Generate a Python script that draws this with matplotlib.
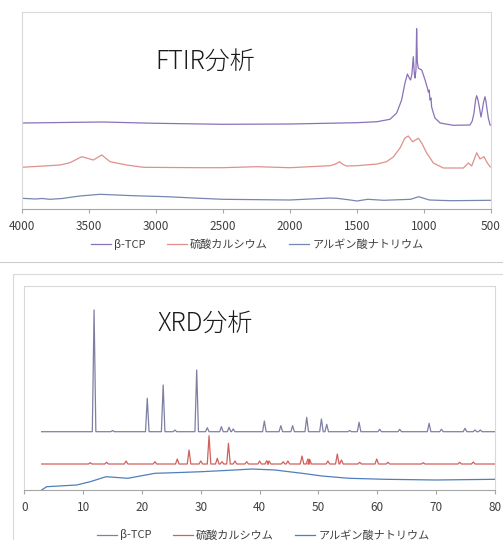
import matplotlib
matplotlib.use("Agg")
import matplotlib.pyplot as plt
from matplotlib.lines import Line2D
from matplotlib.patches import Rectangle

plt.rcParams['font.family'] = ['Noto Sans CJK JP', 'DejaVu Sans']

series_names = ["β-TCP", "硫酸カルシウム", "アルギン酸ナトリウム"]

# FTIR spectra (wavenumber, arbitrary intensity)
ftir_tcp_x = [4000, 3400, 3000, 2500, 2000, 1500, 1350, 1254, 1204, 1167, 1142, 1124,
              1110, 1100, 1090, 1080, 1072, 1067, 1060, 1055, 1050, 1042, 1017, 992,
              975, 967, 962, 955, 948, 943, 930, 918, 880, 781, 657, 640, 627, 615,
              607, 597, 587, 575, 565, 557, 545, 538, 532, 520, 507, 500]
ftir_tcp_y = [86, 87, 85.7, 84.7, 85, 86.3, 87.3, 89.7, 96, 109, 126, 135,
              131, 129, 135, 152.3, 135, 131, 139, 180.3, 147, 140.7, 139, 129,
              121, 117, 119, 109, 111, 102, 96, 91, 86, 83.7, 84, 88, 96, 109,
              113.3, 109, 102, 92, 99, 106, 112.3, 108, 102, 91, 84, 84]

ftir_caso4_x = [4000, 3716, 3642, 3554, 3468, 3405, 3343, 3219, 3095, 2672, 2500, 2250,
                2000, 1700, 1660, 1630, 1610, 1580, 1500, 1350, 1280, 1229, 1179, 1142,
                1117, 1085, 1042, 1017, 980, 930, 856, 706, 669, 644, 607, 582, 552,
                532, 507, 500]
ftir_caso4_y = [41.7, 44, 46.3, 52.3, 49, 54, 47.3, 44, 41.7, 41.3, 41.3, 42.3,
                41.3, 43.3, 45, 47.3, 45, 43, 43.3, 45, 47.3, 52, 61, 71,
                73, 67.3, 70.7, 66, 56, 46, 41, 41, 46, 43, 56.3, 50, 52.3,
                47, 42.3, 42]

ftir_alg_x = [4000, 3900, 3850, 3791, 3700, 3650, 3567, 3418, 3171, 2920, 2672, 2500,
              2000, 1700, 1650, 1550, 1500, 1420, 1300, 1100, 1040, 960, 800, 500]
ftir_alg_y = [10.7, 10, 10.5, 9.7, 10.5, 11.5, 13, 14.7, 13.3, 12.3, 10.7, 9.7,
              9, 11, 10.7, 9, 8, 9.7, 8.7, 9.7, 12.3, 9, 8.3, 8.7]

# XRD patterns (2theta, arbitrary intensity)
xrd_tcp_base = 58.3
xrd_tcp_peaks = [11.86, 15.0, 20.9, 23.6, 25.6, 29.3, 31.1, 33.5, 34.8, 35.5, 40.8,
                 43.6, 45.6, 48.0, 50.5, 51.4, 55.3, 56.9, 60.4, 63.8, 68.8, 70.9,
                 74.9, 76.6, 77.5]
xrd_tcp_heights = [180, 59.5, 91.7, 105, 60, 120, 62.3, 63.3, 62.7, 61, 69,
                   64.3, 64.3, 72.7, 71, 65.7, 59.5, 67.7, 60.7, 60.7, 66.7, 60.7,
                   61.7, 60, 60]

xrd_caso4_base = 26
xrd_caso4_peaks = [11.2, 14.0, 17.3, 22.2, 26.0, 28.0, 30.0, 31.4, 32.8, 33.6, 34.7,
                   35.8, 37.8, 40.0, 41.2, 41.6, 44.0, 44.8, 47.2, 48.2, 48.5, 51.6,
                   53.2, 53.9, 57.0, 59.9, 61.8, 67.8, 74.0, 76.3]
xrd_caso4_heights = [27.3, 27.7, 29, 28.3, 31, 40, 29, 54.3, 31.7, 28.3, 46.7,
                     29, 28.3, 29, 29.3, 29, 28.3, 29, 34, 31, 30.7, 29,
                     36, 30, 27.7, 31, 27.7, 27.3, 27.7, 28]

xrd_alg_x = [2.95, 3.8, 8.9, 11.2, 13.9, 17.6, 22.2, 25.5, 30.1, 35.8, 38.7, 42.6,
             47.2, 50.6, 55.2, 61.4, 69.9, 80]
xrd_alg_y = [0, 3.3, 5, 8.3, 13.3, 11.7, 16.7, 17.3, 18.3, 20, 21, 20,
             16.7, 14, 11.7, 10.7, 10, 10.7]

W, H = 503, 540


def peak_line(start, end, base, centers, heights, hw=0.3):
    xs, ys = [start], [base]
    for c, h in zip(centers, heights):
        xs += [c - hw, c, c + hw]
        ys += [base, h, base]
    xs.append(end)
    ys.append(base)
    return xs, ys


def style_axes(ax):
    for side in ["top", "left", "right"]:
        ax.spines[side].set_color("#d9d9d9")
        ax.spines[side].set_linewidth(0.8)
    ax.spines["bottom"].set_color("#a6a6a6")
    ax.spines["bottom"].set_linewidth(0.8)
    ax.set_yticks([])
    ax.tick_params(axis="x", direction="out", length=3, width=0.8, color="#a6a6a6",
                   labelsize=8.5, labelcolor="#404040", pad=5)


def add_legend(handles, cx, cy):
    fig.legend(handles, series_names, loc="center", bbox_to_anchor=(cx / W, 1 - cy / H),
               ncol=3, frameon=False, fontsize=8, handlelength=1.8, columnspacing=1.9,
               handletextpad=0.3, labelcolor="#404040")


fig = plt.figure(figsize=(W / 100, H / 100), dpi=100)

# --- FTIR ---
ax1 = fig.add_axes([22 / W, 1 - 209 / H, 469 / W, 197 / H])
c1 = ["#8a72b8", "#e0908c", "#7587b0"]
ax1.plot(ftir_tcp_x, ftir_tcp_y, color=c1[0], lw=0.9)
ax1.plot(ftir_caso4_x, ftir_caso4_y, color=c1[1], lw=0.9)
ax1.plot(ftir_alg_x, ftir_alg_y, color=c1[2], lw=0.9)
ax1.set_xlim(4000, 500)
ax1.set_ylim(0, 197)
ax1.set_xticks(range(4000, 499, -500))
style_axes(ax1)
fig.text(205 / W, 1 - 62 / H, "FTIR分析", fontsize=18, ha="center", va="center",
         fontweight="light", color="#1a1a1a")
add_legend([Line2D([], [], color=c, lw=0.9) for c in c1], 257, 244)

# separator and second chart frame
fig.add_artist(Line2D([0, 1], [1 - 262 / H, 1 - 262 / H], color="#cccccc", lw=0.8))
fig.add_artist(Rectangle((13 / W, -0.1), 1, 1 - 274 / H + 0.1, fill=False,
                         edgecolor="#d9d9d9", lw=0.8))

# --- XRD ---
ax2 = fig.add_axes([24.3 / W, 50 / H, 470.7 / W, 204.3 / H])
c2 = ["#7f7fa3", "#d0605c", "#4f7fbd"]
tx, ty = peak_line(2.95, 80, xrd_tcp_base, xrd_tcp_peaks, xrd_tcp_heights)
cx, cy = peak_line(2.95, 80, xrd_caso4_base, xrd_caso4_peaks, xrd_caso4_heights)
ax2.plot(tx, ty, color=c2[0], lw=0.9)
ax2.plot(cx, cy, color=c2[1], lw=0.9)
ax2.plot(xrd_alg_x, xrd_alg_y, color=c2[2], lw=0.9)
ax2.set_xlim(0, 80)
ax2.set_ylim(0, 204.3)
ax2.set_xticks(range(0, 81, 10))
style_axes(ax2)
fig.text(205 / W, 1 - 325 / H, "XRD分析", fontsize=18, ha="center", va="center",
         fontweight="light", color="#1a1a1a")
add_legend([Line2D([], [], color=c, lw=0.9) for c in c2], 263, 535)

fig.savefig("out.png", dpi=100)
